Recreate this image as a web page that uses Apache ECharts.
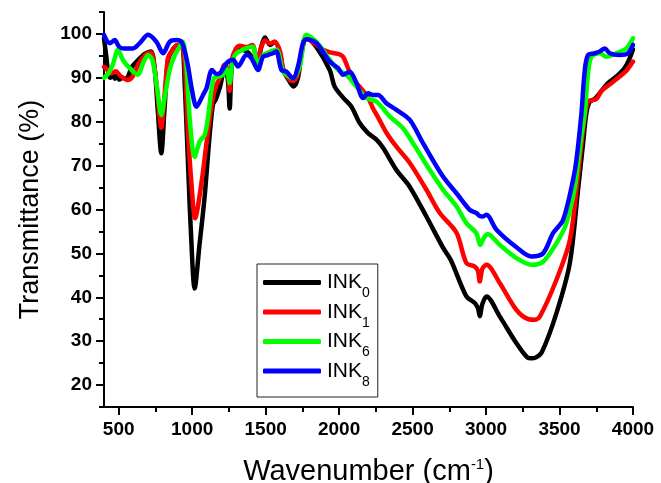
<!DOCTYPE html>
<html>
<head>
<meta charset="utf-8">
<script src="https://cdn.jsdelivr.net/npm/echarts@6/dist/echarts.min.js"></script>
<style>
  html, body { margin: 0; padding: 0; background: #fff; }
  #ftir-chart { width: 661px; height: 483px; }
</style>
</head>
<body>
<div id="ftir-chart"></div>
<script>
// wavenumber (cm-1) and transmittance (%)
const ink0X = [400, 415, 430, 445, 460, 475, 490, 505, 525, 550, 590, 630, 680, 720, 745, 765, 790, 812, 835, 860, 900, 930, 950, 970, 990, 1017, 1050, 1085, 1119, 1142, 1160, 1190, 1220, 1242, 1255, 1270, 1295, 1325, 1370, 1400, 1440, 1470, 1495, 1530, 1562, 1598, 1620, 1664, 1690, 1720, 1745, 1777, 1846, 1936, 1970, 2027, 2084, 2140, 2197, 2254, 2300, 2390, 2480, 2594, 2707, 2760, 2866, 2923, 2945, 2957, 2975, 3003, 3094, 3207, 3280, 3309, 3340, 3380, 3479, 3570, 3626, 3660, 3683, 3706, 3740, 3785, 3830, 3887, 3944, 3978, 4000]
const ink0T = [99, 95, 91, 90, 90.8, 89.8, 90.6, 89.6, 90, 89.8, 92.5, 94, 95.5, 96, 92, 83, 72.8, 83, 94, 96, 97.5, 97.5, 88, 72, 56, 42, 52, 63, 77, 84, 85, 88, 91.8, 90, 83, 93, 96, 96.5, 96, 95, 92.5, 97, 99.2, 97.5, 98.2, 95.6, 91.8, 89.1, 88, 90, 95.6, 99.2, 97, 91.8, 88, 85.5, 83.4, 79.7, 77.4, 75.9, 74, 69, 65.2, 58.4, 51.3, 48.5, 40.2, 38.7, 37.5, 35.7, 38.5, 40.2, 35.6, 29.5, 26.3, 26.1, 26.3, 27.5, 36.4, 47.8, 64.5, 75, 82, 84.6, 85.2, 87, 88.8, 90.3, 92.3, 94.5, 96.5]

const ink1X = [400, 420, 450, 480, 510, 540, 560, 595, 640, 690, 720, 745, 765, 790, 812, 835, 860, 900, 930, 950, 972, 995, 1020, 1063, 1097, 1131, 1160, 1190, 1220, 1242, 1255, 1270, 1295, 1325, 1370, 1410, 1440, 1470, 1495, 1530, 1562, 1598, 1620, 1664, 1690, 1720, 1745, 1777, 1846, 1891, 1940, 1970, 2000, 2027, 2061, 2095, 2140, 2197, 2231, 2265, 2322, 2390, 2481, 2594, 2685, 2799, 2866, 2923, 2945, 2957, 2975, 3003, 3094, 3207, 3290, 3330, 3366, 3479, 3570, 3620, 3660, 3694, 3751, 3785, 3842, 3910, 3955, 4000]
const ink1T = [92.5, 92, 91, 91.5, 90.5, 89.8, 89.5, 90.3, 93.5, 95.5, 95.8, 92, 86, 78.6, 86, 94.5, 96, 97.5, 97.3, 93, 77.5, 66, 58, 66, 75, 83.4, 88, 90, 93, 92, 87, 94, 96.5, 97.3, 97, 97.5, 94, 97, 98.5, 97.8, 98.2, 96, 92, 89.5, 89.3, 91, 96, 99, 97.5, 96.4, 95.8, 95.6, 95.4, 94.8, 92.2, 89.5, 88, 85.5, 83, 81, 77.5, 74.3, 70.6, 64.5, 59.2, 54.7, 47.8, 47, 46, 43.6, 46.5, 47.4, 43.2, 37.1, 35, 34.9, 35.6, 44, 53, 66, 78, 84.6, 85.2, 87, 88.5, 90.3, 91.6, 93.7]

const ink6X = [400, 430, 460, 495, 530, 575, 631, 665, 700, 730, 760, 790, 815, 847, 880, 915, 936, 960, 985, 1017, 1051, 1085, 1108, 1130, 1150, 1180, 1210, 1235, 1255, 1275, 1301, 1350, 1412, 1444, 1480, 1505, 1573, 1618, 1650, 1686, 1732, 1777, 1846, 1936, 1993, 2050, 2118, 2186, 2254, 2344, 2435, 2503, 2617, 2707, 2799, 2866, 2934, 2960, 2985, 3010, 3094, 3207, 3309, 3388, 3479, 3547, 3604, 3626, 3650, 3672, 3694, 3717, 3774, 3819, 3887, 3955, 4000]
const ink6T = [90, 91, 93, 96.4, 94, 92.2, 90.7, 93.3, 95.2, 94, 88, 81.5, 86, 91.8, 95, 97.1, 98.2, 93, 80, 72, 75.5, 77, 81, 87, 90, 90.3, 90.7, 92, 88.8, 94, 95.6, 96.5, 97.1, 92.9, 95, 95.6, 96.4, 91.4, 90.5, 89.9, 92.6, 99.8, 98.2, 94.1, 91.8, 90.7, 88, 85.4, 84.6, 81.2, 78.5, 75.1, 69, 64.5, 60.7, 56.9, 54.6, 51.9, 53.5, 54.4, 51.9, 48.9, 47.4, 48.1, 52.3, 56.9, 65, 70.5, 77, 81.9, 91, 94.8, 95.6, 94.8, 95.6, 96.7, 99]

const ink8X = [400, 439, 473, 500, 530, 597, 643, 700, 757, 802, 847, 893, 927, 950, 972, 1000, 1029, 1074, 1097, 1135, 1165, 1187, 1233, 1278, 1312, 1369, 1403, 1448, 1482, 1516, 1550, 1573, 1607, 1641, 1686, 1720, 1754, 1777, 1846, 1936, 1993, 2027, 2072, 2118, 2163, 2197, 2230, 2265, 2322, 2390, 2481, 2571, 2707, 2799, 2889, 2934, 2957, 2979, 3003, 3071, 3207, 3309, 3388, 3456, 3524, 3592, 3615, 3649, 3672, 3694, 3740, 3774, 3808, 3842, 3910, 3966, 4000]
const ink8T = [99.8, 97.9, 98.6, 97.2, 96.7, 96.7, 97.9, 99.8, 98.2, 95.6, 98.2, 98.6, 98.2, 96, 92.6, 87, 83.4, 86.1, 87.6, 91.8, 90.9, 91, 93.3, 94.1, 92.6, 95.2, 94.5, 91.8, 94.8, 95.2, 95.6, 96, 91.8, 91.4, 89.9, 92.6, 97.9, 98.8, 97.9, 93.7, 92.2, 90.7, 91.4, 88.8, 85.4, 86.5, 86.1, 86.1, 84.2, 82.7, 80.4, 75.1, 67.5, 63.7, 59.9, 59.2, 58.5, 58.4, 58.8, 55.4, 51.4, 49.3, 50, 54.6, 57.6, 66.7, 71.3, 81.9, 91.8, 95.2, 95.6, 96, 96.7, 95.6, 95.2, 95.6, 97.5]

const sampleNames = ['0', '1', '6', '8']
const sampleColors = ['#000000', '#ff0000', '#00ff00', '#0000ff']

const xMajorTicks = [500, 1000, 1500, 2000, 2500, 3000, 3500, 4000]
const xMinorTicks = [750, 1250, 1750, 2250, 2750, 3250, 3750]
const yMajorTicks = [20, 30, 40, 50, 60, 70, 80, 90, 100]
const yMinorTicks = [15, 25, 35, 45, 55, 65, 75, 85, 95, 105]

const chart = echarts.init(document.getElementById('ftir-chart'))

const allX = [ink0X, ink1X, ink6X, ink8X]
const allT = [ink0T, ink1T, ink6T, ink8T]

const font = 'Liberation Sans, Arial, sans-serif'

const option = {
  animation: false,
  grid: { left: 104, right: 28, top: 12, bottom: 76, outerBoundsMode: 'none' },
  xAxis: [
    {
      type: 'value', min: 400, max: 4000,
      name: '{t|Wavenumber (cm}{s|-1}{t|)}',
      nameLocation: 'middle', nameGap: 50,
      nameTextStyle: {
        rich: {
          t: { fontFamily: font, fontSize: 29, lineHeight: 30, color: '#000' },
          s: { fontFamily: font, fontSize: 15, lineHeight: 14, verticalAlign: 'top', color: '#000' },
        },
      },
      axisLine: { lineStyle: { color: '#000', width: 2 } },
      axisTick: { customValues: xMajorTicks, length: 8, lineStyle: { width: 2, color: '#000' } },
      axisLabel: {
        customValues: xMajorTicks, margin: 13,
        formatter: (v) => String(v),
        fontFamily: font, fontSize: 19, fontWeight: 'bold', color: '#000',
      },
      splitLine: { show: false },
    },
    {
      type: 'value', min: 400, max: 4000, position: 'bottom',
      axisLine: { show: false },
      axisTick: { customValues: xMinorTicks, length: 5, lineStyle: { width: 2, color: '#000' } },
      axisLabel: { show: false },
      splitLine: { show: false },
    },
  ],
  yAxis: [
    {
      type: 'value', min: 15, max: 105,
      name: 'Transmittance (%)',
      nameLocation: 'middle', nameGap: 60,
      nameTextStyle: { fontFamily: font, fontSize: 27, color: '#000' },
      axisLine: { show: true, lineStyle: { color: '#000', width: 2 } },
      axisTick: { show: true, customValues: yMajorTicks, length: 8, lineStyle: { width: 2, color: '#000' } },
      axisLabel: {
        customValues: yMajorTicks, margin: 12,
        formatter: (v) => String(v),
        fontFamily: font, fontSize: 19, fontWeight: 'bold', color: '#000',
      },
      splitLine: { show: false },
    },
    {
      type: 'value', min: 15, max: 105, position: 'left',
      axisLine: { show: false },
      axisTick: { show: true, customValues: yMinorTicks, length: 5, lineStyle: { width: 2, color: '#000' } },
      axisLabel: { show: false },
      splitLine: { show: false },
    },
  ],
  legend: {
    orient: 'vertical',
    left: 257, top: 264,
    padding: [8, 8, 8, 6],
    itemWidth: 58, itemHeight: 5, itemGap: 1,
    borderColor: '#222', borderWidth: 1,
    selectedMode: false,
    icon: 'roundRect',
    formatter: (name) => `{a|INK}{s|${name.replace('INK', '')}}`,
    textStyle: {
      padding: [0, 0, 0, 1],
      rich: {
        a: { fontFamily: font, fontSize: 21, lineHeight: 36, color: '#000' },
        s: { fontFamily: font, fontSize: 14, lineHeight: 14, verticalAlign: 'bottom', color: '#000' },
      },
    },
  },
  series: sampleNames.map((n, i) => ({
    name: 'INK' + n,
    type: 'line',
    showSymbol: false,
    symbol: 'none',
    smooth: 0.3,
    itemStyle: { color: sampleColors[i] },
    lineStyle: { color: sampleColors[i], width: 4.5, cap: 'round', join: 'round' },
    data: allX[i].map((x, j) => [x, allT[i][j]]),
  })),
}

chart.setOption(option)
</script>
</body>
</html>
